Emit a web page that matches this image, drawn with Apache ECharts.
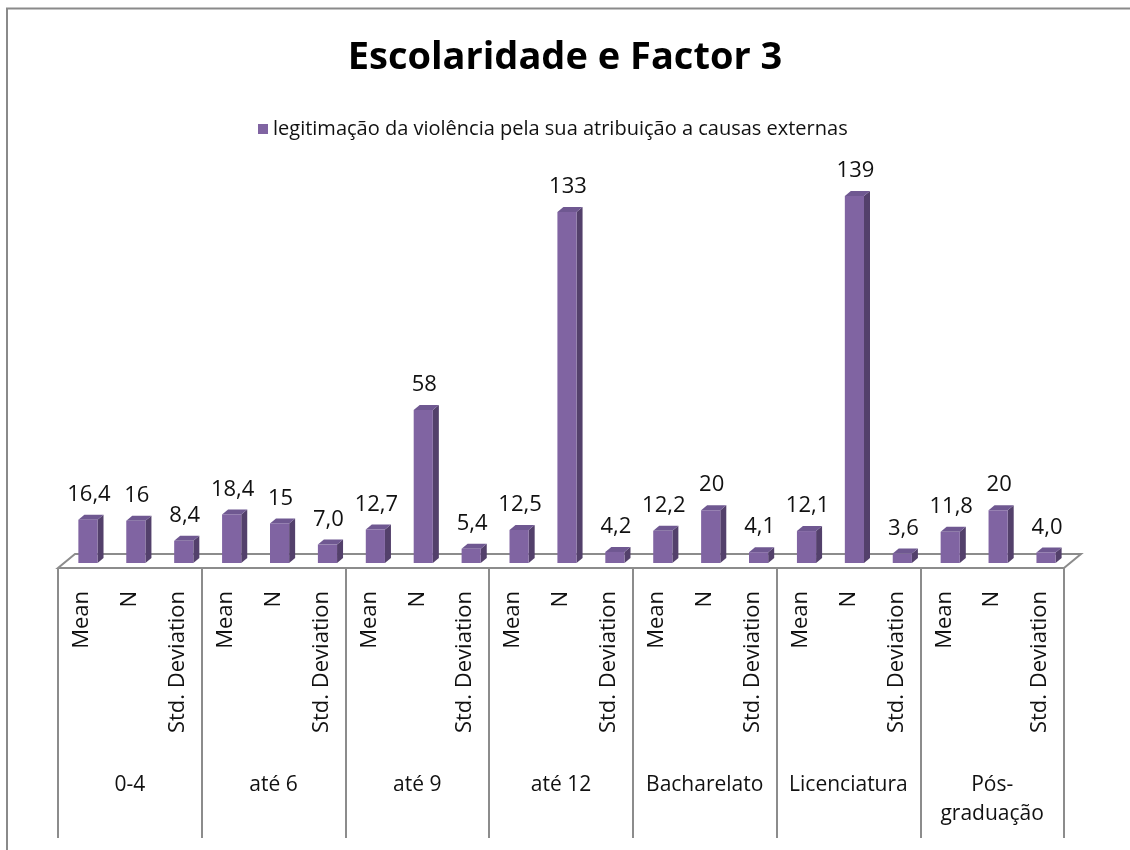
<!DOCTYPE html>
<html>
<head>
<meta charset="utf-8">
<script src="https://cdn.jsdelivr.net/npm/echarts@6/dist/echarts.min.js"></script>
<style>
  html, body { margin: 0; padding: 0; background: #fff; }
  #chart { width: 1130px; height: 850px; }
</style>
</head>
<body>
<div id="chart"></div>
<script>
// Education level groups and the three statistics shown for each
const groups = ['0-4', 'até 6', 'até 9', 'até 12', 'Bacharelato', 'Licenciatura', 'Pós-\ngraduação'];
const measures = ['Mean', 'N', 'Std. Deviation'];
const meanValues = [16.4, 18.4, 12.7, 12.5, 12.2, 12.1, 11.8];
const nValues = [16, 15, 58, 133, 20, 139, 20];
const sdValues = [8.4, 7.0, 5.4, 4.2, 4.1, 3.6, 4.0];
const seriesName = 'legitimação da violência pela sua atribuição a causas externas';

const FONT = '"Open Sans", "Noto Sans", sans-serif';
const FRONT = '#8064A2', SIDE = '#53406B', TOP = '#6F5891';
const GRID_LINE = '#8C8C8C';

// Flatten into one category per (group, statistic)
const subCategories = [];
const barData = [];
groups.forEach((g, gi) => {
  const vals = [meanValues[gi], nValues[gi], sdValues[gi]];
  measures.forEach((m, mi) => {
    const idx = subCategories.length;
    subCategories.push(m);
    const v = vals[mi];
    const txt = mi === 1 ? String(v) : v.toFixed(1).replace('.', ',');
    barData.push([idx, v, txt]);
  });
});

const chart = echarts.init(document.getElementById('chart'), null, { renderer: 'canvas' });

// Bars drawn as pseudo-3D prisms: front face, right side and top
function renderBar(params, api) {
  const idx = api.value(0);
  const val = api.value(1);
  const top = api.coord([idx, val]);
  const base = api.coord([idx, 0]);
  const slot = api.size([1, 0])[0];
  const w = slot * 0.4;
  const cx = top[0] + slot * 0.125;
  const x0 = cx - w / 2, x1 = cx + w / 2;
  const yT = top[1], yB = base[1];
  const dx = 6, dy = -5;
  return {
    type: 'group',
    children: [
      { type: 'polygon', shape: { points: [[x1, yB], [x1 + dx, yB + dy], [x1 + dx, yT + dy], [x1, yT]] },
        style: { fill: SIDE } },
      { type: 'polygon', shape: { points: [[x0, yT], [x1, yT], [x1 + dx, yT + dy], [x0 + dx, yT + dy]] },
        style: { fill: TOP } },
      { type: 'rect', shape: { x: x0, y: yT, width: w, height: yB - yT },
        style: { fill: FRONT } },
      { type: 'text', style: { text: api.value(2), x: cx + 1, y: yT - 14,
          align: 'center', verticalAlign: 'bottom',
          font: '22px ' + FONT, fill: '#111' } }
    ]
  };
}

const option = {
  backgroundColor: '#fff',
  animation: false,
  title: {
    text: 'Escolaridade e Factor 3',
    left: 'center', top: 34,
    padding: [5, 0, 5, 12],
    textStyle: { fontFamily: FONT, fontWeight: 'bold', fontSize: 38, color: '#000' }
  },
  legend: {
    data: [{ name: seriesName, icon: 'rect' }],
    top: 114, left: 253,
    itemWidth: 10, itemHeight: 10, itemGap: 5,
    textStyle: { fontFamily: FONT, fontSize: 20, color: '#111' }
  },
  grid: { left: 58, right: 66, top: 167, bottom: 287, containLabel: false },
  xAxis: [
    {
      type: 'category', data: subCategories, position: 'bottom', offset: 5,
      axisLine: { show: false }, axisTick: { show: false },
      axisLabel: { interval: 0, rotate: 90, margin: 23, fontFamily: FONT, fontSize: 22, color: '#111' }
    },
    {
      type: 'category', data: groups, position: 'bottom', offset: 5,
      axisLine: { show: false },
      axisTick: { show: true, interval: 0, length: 270, lineStyle: { color: GRID_LINE, width: 2 } },
      axisLabel: { interval: 0, margin: 203, fontFamily: FONT, fontSize: 21, lineHeight: 29, color: '#111' }
    }
  ],
  yAxis: { type: 'value', min: 0, max: 150, show: false, splitLine: { show: false } },
  series: [{
    name: seriesName,
    type: 'custom',
    xAxisIndex: 0,
    itemStyle: { color: FRONT },
    renderItem: renderBar,
    encode: { x: 0, y: 1 },
    data: barData,
    z: 3
  }]
};
chart.setOption(option);

// Floor of the plot and the outer frame, placed from the axes' own scales
const c0 = chart.convertToPixel({ xAxisIndex: 0 }, 0);
const c1 = chart.convertToPixel({ xAxisIndex: 0 }, 1);
const cn = chart.convertToPixel({ xAxisIndex: 0 }, subCategories.length - 1);
const slotW = c1 - c0;
const leftX = c0 - slotW / 2, rightX = cn + slotW / 2;
const y0 = chart.convertToPixel({ yAxisIndex: 0 }, 0);
const front = y0 + 5, back = y0 - 9, depth = 17;

chart.setOption({
  graphic: [
    { type: 'polygon', z: 1, silent: true,
      shape: { points: [[leftX, front], [rightX, front], [rightX + depth, back], [leftX + depth, back]] },
      style: { fill: '#fff', stroke: GRID_LINE, lineWidth: 2 } },
    { type: 'rect', z: 0, silent: true,
      shape: { x: 7, y: 8.5, width: 1300, height: 1000 },
      style: { fill: 'none', stroke: '#8A8A8A', lineWidth: 2 } }
  ]
});
</script>
</body>
</html>
